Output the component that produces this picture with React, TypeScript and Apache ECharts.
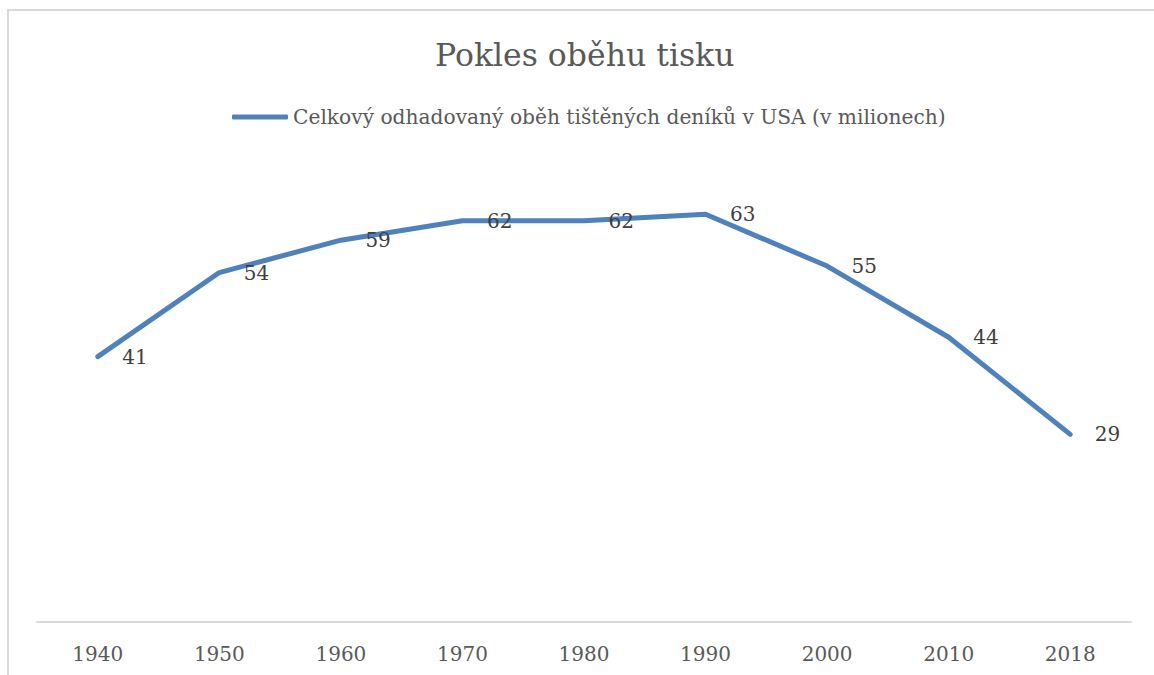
import React, { useEffect, useRef } from "react";
import * as echarts from "echarts";

const title = "Pokles oběhu tisku";
const seriesName = "Celkový odhadovaný oběh tištěných deníků v USA (v milionech)";
const years = ["1940", "1950", "1960", "1970", "1980", "1990", "2000", "2010", "2018"];
const circulation = [41, 54, 59, 62, 62, 63, 55, 44, 29];

const FONT = "'DejaVu Serif', serif";

export default function App() {
  const ref = useRef<HTMLDivElement>(null);
  useEffect(() => {
    if (!ref.current) return;
    const chart = echarts.init(ref.current, undefined, { renderer: "svg" });
    chart.setOption({
      animation: false,
      backgroundColor: "#ffffff",
      textStyle: { fontFamily: FONT },
      title: {
        text: title,
        left: 430,
        top: 34,
        textStyle: { fontFamily: FONT, fontSize: 31.5, fontWeight: "normal", color: "#595959" },
      },
      legend: {
        data: [seriesName],
        top: 102,
        left: 227,
        itemWidth: 56,
        itemHeight: 5,
        itemGap: 5,
        icon: "roundRect",
        textStyle: { fontFamily: FONT, fontSize: 20.2, color: "#595959" },
      },
      graphic: [
        {
          type: "rect",
          shape: { x: 8, y: 10, width: 1400, height: 1000 },
          style: { fill: "none", stroke: "#d9d9d9", lineWidth: 2 },
          silent: true,
        },
      ],
      grid: { left: 37, right: 23, top: 169, bottom: 53 },
      xAxis: {
        type: "category",
        data: years,
        boundaryGap: true,
        axisLine: { show: true, lineStyle: { color: "#d9d9d9", width: 2 } },
        axisTick: { show: false },
        axisLabel: { fontFamily: FONT, fontSize: 20, color: "#595959", margin: 22 },
      },
      yAxis: {
        type: "value",
        min: 0,
        max: 70,
        interval: 10,
        show: false,
        splitLine: { show: false },
      },
      series: [
        {
          name: seriesName,
          type: "line",
          data: circulation,
          symbol: "circle",
          symbolSize: 1,
          showSymbol: true,
          lineStyle: { color: "#4f81bd", width: 5, cap: "round", join: "round" },
          itemStyle: { color: "#4f81bd" },
          label: {
            show: true,
            position: "right",
            distance: 24,
            fontFamily: FONT,
            fontSize: 20,
            color: "#404040",
          },
        },
      ],
    });
    return () => chart.dispose();
  }, []);
  return (
    <div
      ref={ref}
      style={{ position: "fixed", left: 0, top: 0, width: 1154, height: 675 }}
    />
  );
}
